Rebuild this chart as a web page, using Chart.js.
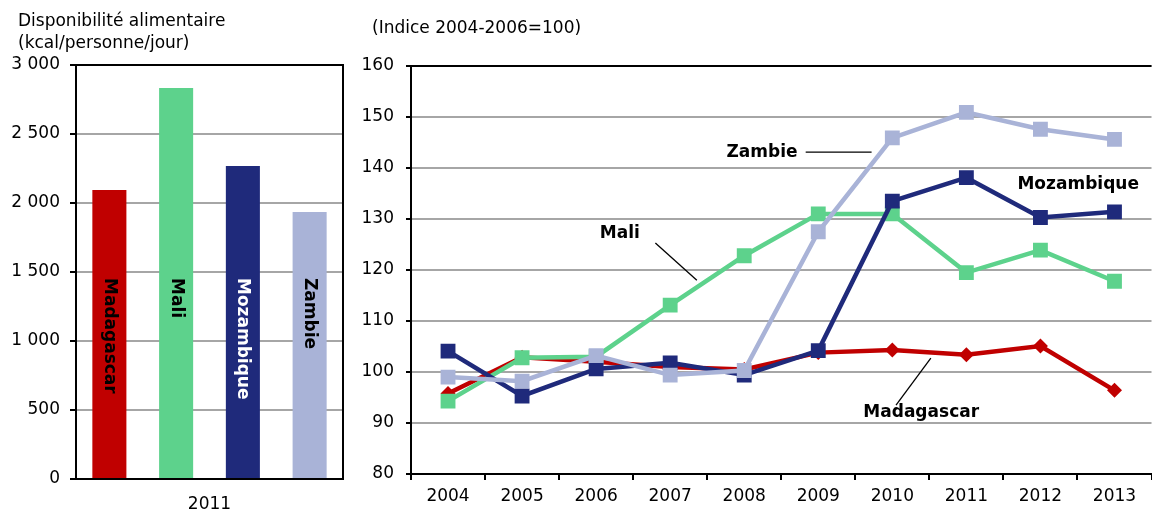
<!DOCTYPE html>
<html>
<head>
<meta charset="utf-8">
<script src="https://cdn.jsdelivr.net/npm/chart.js@4/dist/chart.umd.min.js"></script>
<style>
  body { margin: 0; background: #fff; overflow: hidden; }
  #left { position: absolute; left: 0; top: 0; width: 355px; height: 511px; }
  #right { position: absolute; left: 355px; top: 0; width: 807px; height: 511px; }
</style>
</head>
<body>
<div id="left"><canvas id="barChart"></canvas></div>
<div id="right"><canvas id="lineChart"></canvas></div>
<script>
// left panel: food availability 2011
const countries = ["Madagascar", "Mali", "Mozambique", "Zambie"];
const kcal2011 = [2094, 2833, 2268, 1935];
const kcalTicks = [0, 500, 1000, 1500, 2000, 2500, 3000];

// right panel: index 2004-2006 = 100
const years = ["2004", "2005", "2006", "2007", "2008", "2009", "2010", "2011", "2012", "2013"];
const madagascar = [95.8, 102.9, 102.0, 101.0, 100.5, 103.8, 104.3, 103.4, 105.1, 96.4];
const mali = [94.3, 102.8, 103.0, 113.1, 122.8, 131.0, 131.0, 119.5, 123.9, 117.8];
const mozambique = [104.1, 95.3, 100.6, 101.8, 99.4, 104.2, 133.5, 138.1, 130.3, 131.4];
const zambie = [99.0, 98.2, 103.2, 99.4, 100.3, 127.5, 145.9, 150.9, 147.6, 145.6];

const colors = ["#C00000", "#5DD28C", "#1F2A7B", "#A9B3D7"];
const FONT = "DejaVu Sans";

Chart.defaults.font.family = FONT;
Chart.defaults.font.size = 17;
Chart.defaults.color = "#000";
Chart.defaults.animation = false;

const spaced = (v) => String(v).replace(/\B(?=(\d{3})+(?!\d))/g, " ");

const barExtras = {
  id: "barExtras",
  afterDraw(chart) {
    const { ctx, chartArea: { top, right, bottom } } = chart;
    ctx.save();
    // frame top + right
    ctx.strokeStyle = "#000";
    ctx.lineWidth = 2;
    ctx.beginPath();
    ctx.moveTo(chart.chartArea.left, top);
    ctx.lineTo(right, top);
    ctx.lineTo(right, bottom);
    ctx.stroke();
    // titles
    ctx.fillStyle = "#000";
    ctx.font = "17px " + FONT;
    ctx.textBaseline = "middle";
    ctx.textAlign = "left";
    ctx.fillText("Disponibilité alimentaire", 18, 22);
    ctx.fillText("(kcal/personne/jour)", 18, 44);
    // labels inside bars
    ctx.font = "bold 17px " + FONT;
    chart.data.datasets.forEach((ds, i) => {
      const bar = chart.getDatasetMeta(i).data[0];
      ctx.save();
      ctx.translate(bar.x, 278);
      ctx.rotate(Math.PI / 2);
      ctx.fillStyle = i === 2 ? "#fff" : "#000";
      ctx.fillText(ds.label, 0, 0);
      ctx.restore();
    });
    ctx.restore();
  },
};

new Chart(document.getElementById("barChart"), {
  type: "bar",
  data: {
    labels: ["2011"],
    datasets: countries.map((c, i) => ({
      label: c,
      data: [kcal2011[i]],
      backgroundColor: colors[i],
      categoryPercentage: 1.0,
      barPercentage: 0.51,
    })),
  },
  options: {
    responsive: true,
    maintainAspectRatio: false,
    layout: { padding: { top: 65, right: 12, left: 0, bottom: 0 } },
    plugins: { legend: { display: false }, tooltip: { enabled: false } },
    scales: {
      x: {
        grid: { display: false },
        border: { color: "#000", width: 2 },
        ticks: { padding: 7 },
        afterFit: (s) => { s.height = 32; },
      },
      y: {
        min: 0,
        max: 3000,
        afterBuildTicks: (s) => { s.ticks = kcalTicks.map((v) => ({ value: v })); },
        grid: { color: "#a6a6a6", lineWidth: 2, tickColor: "#000", tickLength: 6 },
        border: { color: "#000", width: 2 },
        ticks: { padding: 10, callback: (v) => spaced(v) },
        afterFit: (s) => { s.width = 76; },
      },
    },
  },
  plugins: [barExtras],
});

// labels on the line chart, positioned in data units
const notes = [
  { text: "Zambie", x: 4.24, y: 143, line: [4.83, 143.1, 5.72, 143.1] },
  { text: "Mali", x: 2.32, y: 127.1, line: [2.8, 125.3, 3.36, 118.0] },
  { text: "Mozambique", x: 8.51, y: 136.7 },
  { text: "Madagascar", x: 6.39, y: 92.0, line: [6.05, 93.5, 6.52, 102.7] },
];

const lineExtras = {
  id: "lineExtras",
  afterDraw(chart) {
    const { ctx, chartArea: { left, right, top }, scales: { x, y } } = chart;
    ctx.save();
    ctx.strokeStyle = "#000";
    ctx.lineWidth = 2;
    ctx.beginPath();
    ctx.moveTo(left, top);
    ctx.lineTo(right, top);
    ctx.stroke();

    ctx.fillStyle = "#000";
    ctx.font = "17px " + FONT;
    ctx.textBaseline = "middle";
    ctx.textAlign = "left";
    ctx.fillText("(Indice 2004-2006=100)", 372 - 355, 29);

    ctx.font = "bold 17px " + FONT;
    ctx.textAlign = "center";
    ctx.lineWidth = 1.3;
    notes.forEach((n) => {
      ctx.fillText(n.text, x.getPixelForValue(n.x), y.getPixelForValue(n.y));
      if (n.line) {
        ctx.beginPath();
        ctx.moveTo(x.getPixelForValue(n.line[0]), y.getPixelForValue(n.line[1]));
        ctx.lineTo(x.getPixelForValue(n.line[2]), y.getPixelForValue(n.line[3]));
        ctx.stroke();
      }
    });
    ctx.restore();
  },
};

const lineSeries = [
  { label: "Zambie", data: zambie, color: colors[3], style: "rect", r: 10.5 },
  { label: "Mozambique", data: mozambique, color: colors[2], style: "rect", r: 10.5 },
  { label: "Mali", data: mali, color: colors[1], style: "rect", r: 10.5 },
  { label: "Madagascar", data: madagascar, color: colors[0], style: "rectRot", r: 7.5 },
];

new Chart(document.getElementById("lineChart"), {
  type: "line",
  data: {
    labels: years,
    datasets: lineSeries.map((s) => ({
      label: s.label,
      data: s.data,
      borderColor: s.color,
      backgroundColor: s.color,
      borderWidth: 4.5,
      pointStyle: s.style,
      pointRadius: s.r,
      pointBorderWidth: 0,
      tension: 0,
    })),
  },
  options: {
    responsive: true,
    maintainAspectRatio: false,
    layout: { padding: { top: 66, right: 0, left: 0, bottom: 0 } },
    plugins: { legend: { display: false }, tooltip: { enabled: false } },
    scales: {
      x: {
        offset: true,
        grid: { offset: true, drawOnChartArea: false, tickColor: "#000", tickLength: 6, lineWidth: 2 },
        border: { color: "#000", width: 2 },
        ticks: { padding: 6, maxRotation: 0 },
        afterFit: (s) => { s.height = 37; },
      },
      y: {
        min: 80,
        max: 160,
        ticks: { stepSize: 10, padding: 12 },
        grid: { color: "#a6a6a6", lineWidth: 2, tickColor: "#000", tickLength: 5 },
        border: { color: "#000", width: 2 },
        afterFit: (s) => { s.width = 56; },
      },
    },
  },
  plugins: [lineExtras],
});
</script>
</body>
</html>
